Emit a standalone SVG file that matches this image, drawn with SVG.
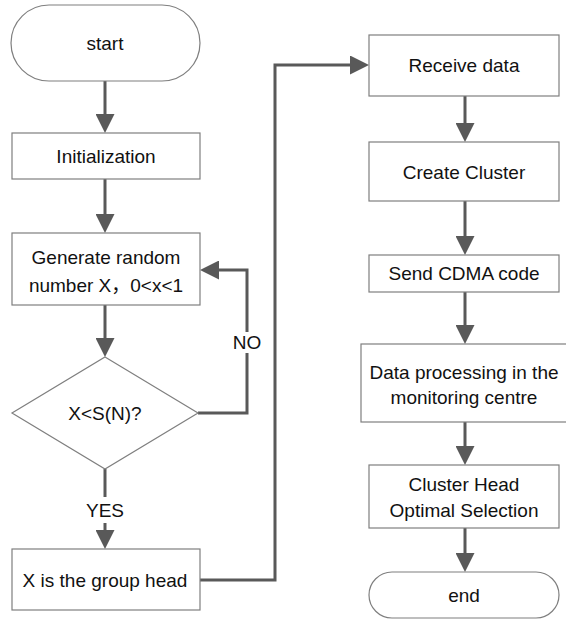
<svg xmlns="http://www.w3.org/2000/svg" width="566" height="619" viewBox="0 0 566 619">
<defs>
<marker id="ah" markerUnits="userSpaceOnUse" markerWidth="19" markerHeight="19" refX="0" refY="9.5" orient="auto">
<path d="M0,0 L19,9.5 L0,19 z" fill="#595959"/>
</marker>
<style>
.n{fill:#fff;stroke:#7f7f7f;stroke-width:1.2}
.t{font-family:"Liberation Sans","Noto Sans CJK SC",sans-serif;font-size:19px;fill:#111;text-anchor:middle}
.c{fill:none;stroke:#595959;stroke-width:3}
.a{marker-end:url(#ah)}
</style>
</defs>
<rect width="566" height="619" fill="#fff"/>
<g id="connectors">
<path class="c a" d="M105,81 V114"/>
<path class="c a" d="M105,179 V214"/>
<path class="c a" d="M105,305 V338"/>
<path class="c" d="M105,469 V497"/>
<path class="c a" d="M105,523 V530"/>
<path class="c" d="M198,413 H247 V353"/>
<path class="c a" d="M247,332 V270 H219"/>
<path class="c a" d="M200,580 H275 V65 H350"/>
<path class="c a" d="M465,96 V123"/>
<path class="c a" d="M465,201 V236"/>
<path class="c a" d="M465,292 V325"/>
<path class="c a" d="M465,422 V446"/>
<path class="c a" d="M465,528 V553"/>
<text class="t" x="247" y="349">NO</text>
<text class="t" x="105" y="517">YES</text>
</g>
<g id="start"><rect class="n" x="11" y="5" width="189" height="76" rx="38"/><text class="t" x="105" y="50">start</text></g>
<g id="init"><rect class="n" x="12" y="133" width="188" height="46"/><text class="t" x="106" y="163">Initialization</text></g>
<g id="generate"><rect class="n" x="12" y="233" width="188" height="72"/><text class="t" x="106" y="264">Generate random</text><text class="t" x="106" y="292">number X，0&lt;x&lt;1</text></g>
<g id="decision"><polygon class="n" points="105,357 198,413 105,469 12,413"/><text class="t" x="105" y="420">X&lt;S(N)?</text></g>
<g id="grouphead"><rect class="n" x="12" y="549" width="188" height="61"/><text class="t" x="105" y="587">X is the group head</text></g>
<g id="receive"><rect class="n" x="369" y="35" width="190" height="61"/><text class="t" x="464" y="72">Receive data</text></g>
<g id="cluster"><rect class="n" x="369" y="142" width="190" height="59"/><text class="t" x="464" y="179">Create Cluster</text></g>
<g id="cdma"><rect class="n" x="369" y="255" width="190" height="37"/><text class="t" x="464" y="280">Send CDMA code</text></g>
<g id="processing"><rect class="n" x="361" y="344" width="210" height="78"/><text class="t" x="464" y="379">Data processing in the</text><text class="t" x="464" y="404">monitoring centre</text></g>
<g id="optimal"><rect class="n" x="369" y="465" width="190" height="63"/><text class="t" x="464" y="491">Cluster Head</text><text class="t" x="464" y="517">Optimal Selection</text></g>
<g id="end"><rect class="n" x="369" y="572" width="190" height="46" rx="23"/><text class="t" x="464" y="602">end</text></g>
</svg>
